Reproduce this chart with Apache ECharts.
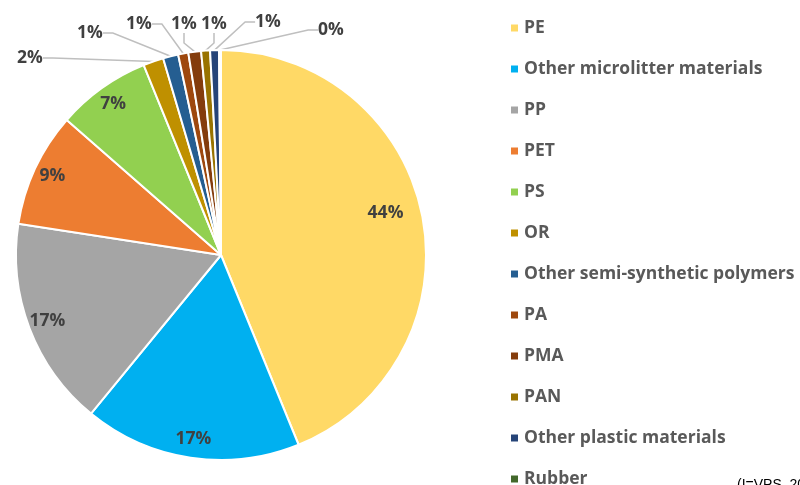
<!DOCTYPE html>
<html>
<head>
<meta charset="utf-8">
<script src="https://cdn.jsdelivr.net/npm/echarts@6/dist/echarts.min.js"></script>
<style>
  html, body { margin: 0; padding: 0; background: #fff; }
  #pie_main { width: 800px; height: 485px; }
</style>
</head>
<body>
<div id="pie_main"></div>
<script>
// categories and shares (%)
var categories = ['PE', 'Other microlitter materials', 'PP', 'PET', 'PS', 'OR',
  'Other semi-synthetic polymers', 'PA', 'PMA', 'PAN', 'Other plastic materials', 'Rubber'];
var shares = [43.8, 17.1, 16.5, 9.0, 7.4, 1.6, 1.2, 0.8, 1.0, 0.7, 0.7, 0.15];
var colors = ['#FFD966', '#00B0F0', '#A5A5A5', '#ED7D31', '#92D050', '#BF9000',
  '#255E91', '#9E480E', '#843C0C', '#997300', '#264478', '#43682B'];

// the first five get labels inside the slice, the rest outside
var insideCount = 5;
// where the outside labels sit (row along the top)
var outsideSpots = [[30, 58], [90, 33], [139, 24], [184, 24], [214, 24], [268, 22], [331, 30]];

var pieData = categories.map(function (name, i) {
  return {
    name: name,
    value: shares[i],
    itemStyle: { color: colors[i] },
    labelLine: { show: i >= insideCount }
  };
});

var labelFont = {
  fontFamily: 'Open Sans',
  fontWeight: 'bold',
  fontSize: 17.5,
  color: '#404040'
};

var chart = echarts.init(document.getElementById('pie_main'));
chart.setOption({
  animation: false,
  color: colors,
  legend: {
    orient: 'vertical',
    left: 509,
    top: 18,
    height: 520,
    padding: 0,
    itemWidth: 9,
    itemHeight: 9,
    itemGap: 21,
    icon: 'rect',
    data: categories,
    textStyle: {
      fontFamily: 'Open Sans',
      fontWeight: 'bold',
      fontSize: 17.5,
      lineHeight: 20,
      color: '#595959'
    }
  },
  graphic: [{
    type: 'text',
    left: 737,
    top: 478,
    style: { text: '(I=VPS, 2021)', fontSize: 14, fontFamily: 'Liberation Sans', fill: '#000' }
  }],
  series: [
    {
      type: 'pie',
      center: [221, 255],
      radius: 205,
      startAngle: 90,
      clockwise: true,
      avoidLabelOverlap: false,
      itemStyle: { borderColor: '#fff', borderWidth: 2 },
      label: {
        show: true,
        position: 'outside',
        formatter: function (p) {
          return p.dataIndex >= insideCount ? Math.round(p.value) + '%' : '';
        },
        fontFamily: labelFont.fontFamily,
        fontWeight: labelFont.fontWeight,
        fontSize: labelFont.fontSize,
        color: labelFont.color
      },
      labelLine: {
        show: true,
        length: 10,
        length2: 10,
        smooth: false,
        lineStyle: { color: '#BFBFBF', width: 1.5 }
      },
      labelLayout: function (params) {
        var k = params.dataIndex - insideCount;
        if (k < 0) return {};
        var spot = outsideSpots[k];
        return {
          x: spot[0],
          y: spot[1],
          align: 'center',
          verticalAlign: 'middle'
        };
      },
      emphasis: { disabled: true },
      data: pieData
    },
    {
      // transparent ring used only to put the big labels near the outer edge
      type: 'pie',
      center: [221, 255],
      radius: [160, 206],
      startAngle: 90,
      clockwise: true,
      silent: true,
      legendHoverLink: false,
      itemStyle: { color: 'rgba(0,0,0,0)', borderWidth: 0 },
      label: {
        show: true,
        position: 'inside',
        formatter: function (p) {
          return p.dataIndex < insideCount ? Math.round(p.value) + '%' : '';
        },
        fontFamily: labelFont.fontFamily,
        fontWeight: labelFont.fontWeight,
        fontSize: labelFont.fontSize,
        color: labelFont.color
      },
      labelLayout: function (params) {
        // the big PE label sits a bit further in
        return params.dataIndex === 0 ? { dx: -18, dy: -6 } : {};
      },
      labelLine: { show: false },
      emphasis: { disabled: true },
      data: categories.map(function (name, i) {
        return { name: name + ' ', value: shares[i] };
      })
    }
  ]
});
</script>
</body>
</html>
